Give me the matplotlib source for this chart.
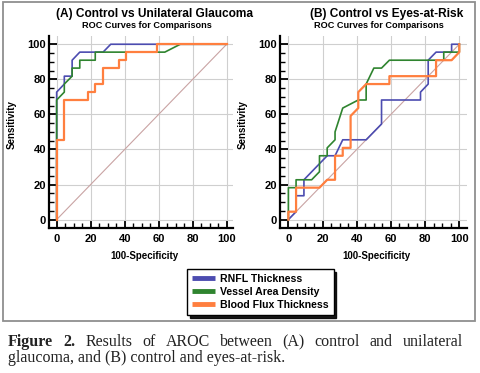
import matplotlib
matplotlib.use('Agg')
import matplotlib.pyplot as plt
from matplotlib.patches import Rectangle
from matplotlib.lines import Line2D
from matplotlib.ticker import MultipleLocator

plt.rcParams['font.family'] = ['Liberation Sans', 'DejaVu Sans']

# === (A) Control vs Unilateral Glaucoma ===
a_rnfl_x = [0, 0, 4.5, 4.5, 9.1, 9.1, 13.6, 27.3, 31.8, 100]
a_rnfl_y = [0, 72.7, 77.3, 81.8, 81.8, 90.9, 95.5, 95.5, 100, 100]
a_vad_x = [0, 0, 4.5, 4.5, 9.1, 9.1, 13.6, 13.6, 22.7, 22.7, 63.6, 72.7, 100]
a_vad_y = [0, 68.2, 72.7, 77.3, 81.8, 86.4, 86.4, 90.9, 90.9, 95.5, 95.5, 100, 100]
a_bft_x = [0, 0, 4.5, 4.5, 18.2, 18.2, 22.7, 22.7, 27.3, 27.3, 36.4, 36.4, 40.9, 40.9, 59.1, 59.1, 100]
a_bft_y = [0, 45.5, 45.5, 68.2, 68.2, 72.7, 72.7, 77.3, 77.3, 86.4, 86.4, 90.9, 90.9, 95.5, 95.5, 100, 100]

# === (B) Control vs Eyes-at-Risk ===
b_rnfl_x = [0, 4.5, 4.5, 9.1, 9.1, 22.7, 27.3, 31.8, 45.5, 54.5, 54.5, 77.3, 77.3, 81.8, 81.8, 86.4, 95.5, 95.5, 100]
b_rnfl_y = [0, 4.5, 13.6, 13.6, 22.7, 36.4, 36.4, 45.5, 45.5, 54.5, 68.2, 68.2, 72.7, 77.3, 90.9, 95.5, 95.5, 100, 100]
b_vad_x = [0, 0, 4.5, 4.5, 13.6, 18.2, 18.2, 22.7, 22.7, 27.3, 27.3, 31.8, 40.9, 45.5, 45.5, 50, 54.5, 59.1, 90.9, 90.9, 100, 100]
b_vad_y = [0, 18.2, 18.2, 22.7, 22.7, 27.3, 36.4, 36.4, 40.9, 45.5, 50, 63.6, 68.2, 68.2, 77.3, 86.4, 86.4, 90.9, 90.9, 95.5, 95.5, 100]
b_bft_x = [0, 0, 4.5, 4.5, 18.2, 22.7, 27.3, 27.3, 31.8, 31.8, 36.4, 36.4, 40.9, 40.9, 45.5, 59.1, 59.1, 86.4, 86.4, 95.5, 100, 100]
b_bft_y = [0, 4.5, 4.5, 18.2, 18.2, 22.7, 22.7, 36.4, 36.4, 40.9, 40.9, 59.1, 63.6, 72.7, 77.3, 77.3, 81.8, 81.8, 90.9, 90.9, 95.5, 100]

series_names = ['RNFL Thickness', 'Vessel Area Density', 'Blood Flux Thickness']
colors = ['#4c4cb0', '#2f842f', '#ff7f3f']
ticks = [0, 20, 40, 60, 80, 100]

W, H = 481, 373
fig = plt.figure(figsize=(W / 100, H / 100), dpi=100)


def px_axes(x0, x1, y0, y1):
    return fig.add_axes([x0 / W, 1 - y1 / H, (x1 - x0) / W, (y1 - y0) / H])


def style_axes(ax, xlim, ylim):
    ax.set_xlim(*xlim); ax.set_ylim(*ylim)
    ax.set_xticks(ticks); ax.set_yticks(ticks)
    ax.xaxis.set_minor_locator(MultipleLocator(5))
    ax.yaxis.set_minor_locator(MultipleLocator(5))
    ax.tick_params(which='major', direction='in', length=6, width=1.3,
                   labelsize=8)
    ax.tick_params(axis='y', which='major', pad=2)
    ax.tick_params(axis='x', which='major', pad=4)
    ax.tick_params(which='minor', direction='in', length=3.5, width=1.0)
    for lab in ax.get_xticklabels() + ax.get_yticklabels():
        lab.set_fontweight('bold')
    for s in ['top', 'right']:
        ax.spines[s].set_visible(False)
    for s in ['left', 'bottom']:
        ax.spines[s].set_linewidth(1.6)
    ax.grid(True, which='major', color='#cfcfcf', linewidth=0.8)
    ax.set_axisbelow(True)
    ax.plot([0, 100], [0, 100], color='#c9a3a3', linewidth=0.8, zorder=2)


axA = px_axes(49, 233, 36, 228)
style_axes(axA, (-4.5, 103.7), (-4.8, 104.7))
axA.plot(a_rnfl_x, a_rnfl_y, color=colors[0], linewidth=1.2, zorder=3)
axA.plot(a_vad_x, a_vad_y, color=colors[1], linewidth=1.2, zorder=4)
axA.plot(a_bft_x, a_bft_y, color=colors[2], linewidth=1.6, zorder=5)

axB = px_axes(280, 467, 36, 228)
style_axes(axB, (-4.9, 104.5), (-4.8, 104.7))
axB.plot(b_rnfl_x, b_rnfl_y, color=colors[0], linewidth=1.2, zorder=3)
axB.plot(b_vad_x, b_vad_y, color=colors[1], linewidth=1.2, zorder=4)
axB.plot(b_bft_x, b_bft_y, color=colors[2], linewidth=1.6, zorder=5)


def ftext(x, y, s, **kw):
    return fig.text(x / W, 1 - y / H, s, **kw)


# titles
ftext(155, 14, '(A) Control vs Unilateral Glaucoma', ha='center', va='center',
      fontsize=8.6, fontweight='bold')
ftext(146.5, 26, 'ROC Curves for Comparisons', ha='center', va='center',
      fontsize=6.6, fontweight='bold')
ftext(387, 14, '(B) Control vs Eyes-at-Risk', ha='center', va='center',
      fontsize=8.6, fontweight='bold')
ftext(378.5, 26, 'ROC Curves for Comparisons', ha='center', va='center',
      fontsize=6.6, fontweight='bold')

# axis labels
ftext(144, 256, '100-Specificity', ha='center', va='center', fontsize=7, fontweight='bold')
ftext(376, 256, '100-Specificity', ha='center', va='center', fontsize=7, fontweight='bold')
ftext(12, 125, 'Sensitivity', ha='center', va='center', rotation=90,
      fontsize=7, fontweight='bold')
ftext(243, 125, 'Sensitivity', ha='center', va='center', rotation=90,
      fontsize=7, fontweight='bold')

# legend
handles = [Line2D([], [], color=c, linewidth=3.5, solid_capstyle='butt') for c in colors]
leg = fig.legend(handles, series_names, loc='upper left',
                 bbox_to_anchor=(187 / W, 1 - 269 / H), borderaxespad=0,
                 fancybox=False, shadow={'color': 'black', 'alpha': 0.9},
                 edgecolor='black', framealpha=1, handlelength=2.2,
                 handletextpad=0.5, labelspacing=0.3, borderpad=0.45,
                 prop={'size': 7.6, 'weight': 'bold'})
leg.get_frame().set_linewidth(1.0)

# outer border
fig.patches.append(Rectangle((3 / W, 1 - 321 / H), 472 / W, 319 / H,
                             transform=fig.transFigure, fill=False,
                             edgecolor='#8f8f8f', linewidth=1.3))

# caption
cap_size = 11.5
renderer = fig.canvas.get_renderer()
line1 = [('Figure', 'bold'), ('2.', 'bold'), ('Results', 'normal'), ('of', 'normal'),
         ('AROC', 'normal'), ('between', 'normal'), ('(A)', 'normal'),
         ('control', 'normal'), ('and', 'normal'), ('unilateral', 'normal')]
texts = [ftext(0, 346, w, fontsize=cap_size, fontweight=wt, family='Liberation Serif',
               color='#222222', va='baseline') for w, wt in line1]
widths = [t.get_window_extent(renderer).width for t in texts]
x0, x1 = 8, 463
gap = (x1 - x0 - sum(widths)) / (len(texts) - 1)
x = x0
for t, wd in zip(texts, widths):
    t.set_x(x / W)
    x += wd + gap
ftext(8, 362, 'glaucoma, and (B) control and eyes-at-risk.', fontsize=cap_size,
      family='Liberation Serif', color='#222222', va='baseline')

fig.savefig('out.png', dpi=100)
